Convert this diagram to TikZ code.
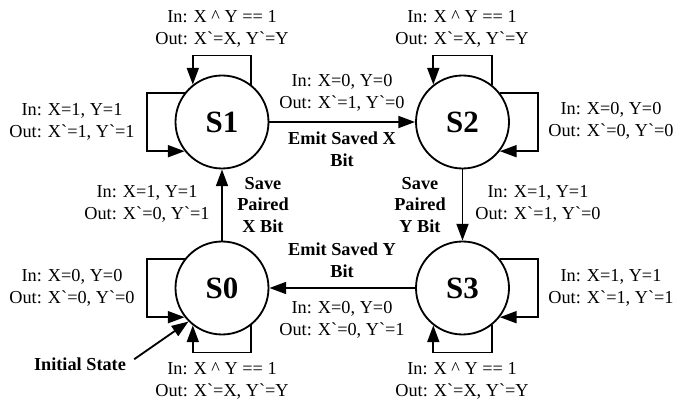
\documentclass[tikz,border=0pt]{standalone}
\usepackage{fontspec}
\setmainfont{Liberation Serif}
\usetikzlibrary{arrows.meta}
\newcommand{\prima}{\textasciigrave}

\begin{document}
\begin{tikzpicture}[
    estado/.style={circle, draw, line width=1.3pt, minimum size=2.325cm,
        inner sep=0pt, font=\fontsize{22}{26}\selectfont\bfseries},
    flecha/.style={line width=1.3pt, -{Triangle[length=0.42cm,width=0.3cm]}},
    etiqueta/.style={align=center, inner sep=1pt,
        font=\fontsize{13}{15.6}\selectfont},
    negrita/.style={align=center, inner sep=1pt,
        font=\fontsize{13}{15.6}\selectfont\bfseries}
    ]
        \useasboundingbox (0,0) rectangle (17.2,10.075);

        % Paso 1: Define los estados
        \node[estado] (S1) at (5.55,7.025) {S1};
        \node[estado] (S2) at (11.5625,7.025) {S2};
        \node[estado] (S0) at (5.55,2.875) {S0};
        \node[estado] (S3) at (11.5625,2.875) {S3};

        % Paso 2: Dibuja las transiciones entre estados
        \draw[flecha] (S1) -- (S2);
        \draw[flecha] (S2) -- (S3);
        \draw[flecha] (S3) -- (S0);
        \draw[flecha] (S0) -- (S1);

        % Paso 3: Dibuja los lazos de cada estado
        \draw[flecha] (S1.52) -- ++(0,0.73) -| (S1.128);
        \draw[flecha] (S1.142) -- ++(-0.95,0) |- (S1.218);
        \draw[flecha] (S2.52) -- ++(0,0.73) -| (S2.128);
        \draw[flecha] (S2.38) -- ++(0.95,0) |- (S2.-38);
        \draw[flecha] (S0.142) -- ++(-0.95,0) |- (S0.218);
        \draw[flecha] (S0.308) -- ++(0,-0.68) -| (S0.232);
        \draw[flecha] (S3.38) -- ++(0.95,0) |- (S3.-38);
        \draw[flecha] (S3.308) -- ++(0,-0.68) -| (S3.232);

        % Paso 4: Marca el estado inicial
        \node[negrita] (inicial) at (2.0,0.98) {Initial State};
        \draw[flecha, shorten <=0.2cm] (inicial.east) -- (S0.225);

        % Paso 5: Etiquetas de los lazos
        \node[etiqueta] (lazoS1a) at (5.55,9.35) {In: X \^{} Y == 1\\Out: X\prima=X, Y\prima=Y};
        \node[etiqueta] (lazoS1b) at (1.8,7.025) {In: X=1, Y=1\\Out: X\prima=1, Y\prima=1};
        \node[etiqueta] (lazoS2a) at (11.55,9.35) {In: X \^{} Y == 1\\Out: X\prima=X, Y\prima=Y};
        \node[etiqueta] (lazoS2b) at (15.275,7.05) {In: X=0, Y=0\\Out: X\prima=0, Y\prima=0};
        \node[etiqueta] (lazoS0a) at (1.8,2.875) {In: X=0, Y=0\\Out: X\prima=0, Y\prima=0};
        \node[etiqueta] (lazoS0b) at (5.55,0.55) {In: X \^{} Y == 1\\Out: X\prima=X, Y\prima=Y};
        \node[etiqueta] (lazoS3a) at (15.275,2.875) {In: X=1, Y=1\\Out: X\prima=1, Y\prima=1};
        \node[etiqueta] (lazoS3b) at (11.55,0.55) {In: X \^{} Y == 1\\Out: X\prima=X, Y\prima=Y};

        % Paso 6: Etiquetas de las transiciones
        \node[etiqueta] (t12) at (8.55,7.75) {In: X=0, Y=0\\Out: X\prima=1, Y\prima=0};
        \node[negrita] (n12) at (8.55,6.35) {Emit Saved X\\Bit};
        \node[negrita] (n23) at (10.5,4.95) {Save\\Paired\\Y Bit};
        \node[etiqueta] (t23) at (13.45,4.975) {In: X=1, Y=1\\Out: X\prima=1, Y\prima=0};
        \node[negrita] (n30) at (8.55,3.575) {Emit Saved Y\\Bit};
        \node[etiqueta] (t30) at (8.55,2.075) {In: X=0, Y=0\\Out: X\prima=0, Y\prima=1};
        \node[negrita] (n01) at (6.575,4.95) {Save\\Paired\\X Bit};
        \node[etiqueta] (t01) at (3.675,4.975) {In: X=1, Y=1\\Out: X\prima=0, Y\prima=1};
    \end{tikzpicture}
\end{document}
